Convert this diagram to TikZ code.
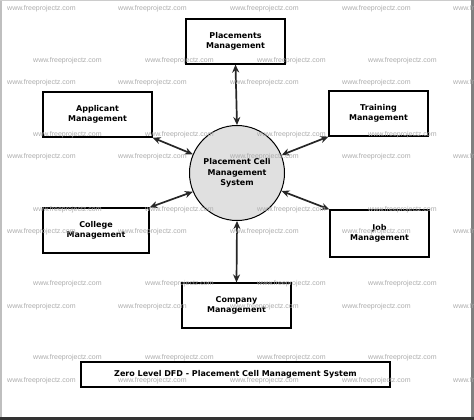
\documentclass[tikz,border=0pt]{standalone}
\usepackage{fontspec}
\setmainfont{DejaVu Sans}
\newfontfamily\wmfont{Liberation Sans}
\usetikzlibrary{arrows.meta}
\tikzset{
  procbox/.style={draw=black, line width=1.2pt, fill=white, minimum width=#1, minimum height=45pt, inner sep=0pt, align=center, font=\fontsize{8pt}{10.5pt}\selectfont\bfseries},
  procbox/.default=99pt,
  proccirc/.style={circle, draw=black, line width=1pt, fill=black!12, minimum size=95pt, inner sep=0pt, align=center, font=\fontsize{8pt}{10.5pt}\selectfont\bfseries},
  flow/.style={line width=1.7pt, draw=black!85, {Stealth[length=8pt,width=7pt]}-{Stealth[length=8pt,width=7pt]}},
  wm/.style={anchor=west, inner sep=0pt, text=black!32, font=\wmfont\fontsize{7pt}{8pt}\selectfont}
}
\begin{document}
\begin{tikzpicture}[x=1pt,y=-1pt]
\useasboundingbox (0,0) rectangle (474,420);
\fill[white] (0,0) rectangle (474,420);
% frame
\draw[black!25, line width=2pt] (1,0) -- (1,420);
\draw[black!20, line width=0.8pt] (0,0.4) -- (474,0.4);
\draw[black!50, line width=2.5pt] (472.7,0) -- (472.7,420);
\draw[black!80, line width=3pt] (0,418.5) -- (474,418.5);

% process boxes
\node[procbox=99pt] (plc) at (235.5,41.5) {Placements\\Management};
\node[procbox=109pt] (app) at (97.5,114.5) {Applicant\\Management};
\node[procbox=99pt] (trn) at (378.5,113.5) {Training\\Management};
\node[proccirc] (cir) at (237,173) {Placement Cell\\Management\\System};
\node[procbox=106pt] (col) at (96,230.5) {College\\Management};
\node[procbox=99pt, minimum height=47pt] (job) at (379.5,233.5) {Job\\Management};
\node[procbox=109pt] (com) at (236.5,305.5) {Company\\Management};
\node[procbox=309pt, minimum height=25pt] (ttl) at (235.5,374.5) {Zero Level DFD - Placement Cell Management System};

% flows
\draw[flow] (plc.south) -- (cir.north);
\draw[flow] (app.south east) -- (cir.157);
\draw[flow] (trn.south west) -- (cir.22);
\draw[flow] (col.north east) -- (cir.203);
\draw[flow] (job.north west) -- (cir.338);
\draw[flow] (cir.south) -- (com.north);

% watermarks
\foreach \y in {9,83,157,232,307,381}{
  \foreach \x in {7,118,230,342,453}{
    \node[wm] at (\x,\y) {www.freeprojectz.com};
  }
}
\foreach \y in {61,135,210,284,358}{
  \foreach \x in {33,145,257,368}{
    \node[wm] at (\x,\y) {www.freeprojectz.com};
  }
}
\end{tikzpicture}
\end{document}
